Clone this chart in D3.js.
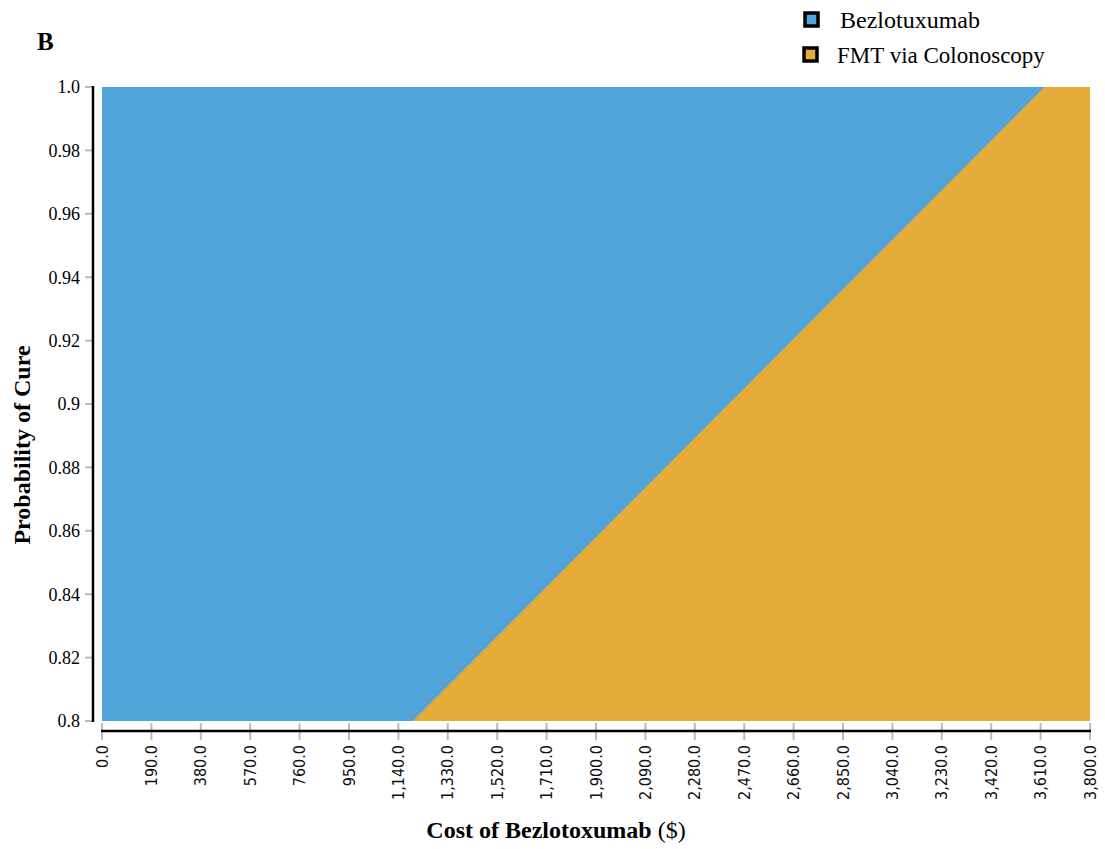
<!DOCTYPE html>
<html lang="en">

<head>
	<meta charset="utf-8">
	<title>Threshold analysis</title>
	<style>
        body { margin: 0; background: #fff; }
        .serif { font-family: "Liberation Serif", "Times New Roman", serif; }
        .xtick text { font: 16px "DejaVu Sans Condensed", "DejaVu Sans", sans-serif; fill: #111; }
	</style>
	<script src="https://cdn.jsdelivr.net/npm/d3@7"></script>
</head>

<body>
    <svg width="1105" height="849"></svg>

	<script>
        // tick values and labels
        const costTicks = [0, 190, 380, 570, 760, 950, 1140, 1330, 1520, 1710, 1900,
            2090, 2280, 2470, 2660, 2850, 3040, 3230, 3420, 3610, 3800];
        const probTicks = [0.8, 0.82, 0.84, 0.86, 0.88, 0.9, 0.92, 0.94, 0.96, 0.98, 1.0];
        const probLabels = ["0.8", "0.82", "0.84", "0.86", "0.88", "0.9", "0.92", "0.94", "0.96", "0.98", "1.0"];

        // threshold line: cost above which FMT is preferred
        const boundaryProb = [0.8, 0.85, 0.9, 0.95, 1.0];
        const boundaryCost = [1195, 1803, 2410, 3018, 3625];

        const seriesNames = ["Bezlotuxumab", "FMT via Colonoscopy"];
        const seriesColors = ["#4fa4da", "#e6ac3a"];

        let svg = d3.select("svg");
        let x = d3.scaleLinear().domain([0, 3800]).range([102, 1090]);
        let y = d3.scaleLinear().domain([0.8, 1.0]).range([721, 87]);

        // regions
        svg.append("rect")
            .attr("x", x(0)).attr("y", y(1.0))
            .attr("width", x(3800) - x(0)).attr("height", y(0.8) - y(1.0))
            .attr("fill", seriesColors[0]);

        let pts = boundaryProb.map((p, i) => ({p: p, c: boundaryCost[i]}));
        let area = d3.area()
            .y(d => y(d.p))
            .x0(d => x(d.c))
            .x1(x(3800));
        svg.append("path").datum(pts)
            .attr("d", area)
            .attr("fill", seriesColors[1]);

        // y axis
        let ya = svg.append("g").attr("class", "serif");
        ya.selectAll("line.t").data(probTicks).enter().append("line")
            .attr("x1", 85).attr("x2", 93)
            .attr("y1", d => y(d)).attr("y2", d => y(d))
            .attr("stroke", "#bbb").attr("stroke-width", 2);
        ya.append("line")
            .attr("x1", 93).attr("x2", 93).attr("y1", y(1.0) - 1).attr("y2", y(0.8) + 1)
            .attr("stroke", "#000").attr("stroke-width", 2.5);
        ya.selectAll("text").data(probTicks).enter().append("text")
            .attr("x", 80).attr("y", d => y(d)).attr("dy", "0.35em")
            .attr("text-anchor", "end").attr("font-size", 18)
            .text((d, i) => probLabels[i]);

        // x axis
        let xa = svg.append("g").attr("class", "xtick");
        xa.selectAll("line").data(costTicks).enter().append("line")
            .attr("x1", d => x(d)).attr("x2", d => x(d))
            .attr("y1", 723).attr("y2", 740)
            .attr("stroke", "#bbb").attr("stroke-width", 2);
        xa.append("line")
            .attr("x1", x(0) - 1).attr("x2", x(3800) + 1).attr("y1", 731).attr("y2", 731)
            .attr("stroke", "#000").attr("stroke-width", 2.5);
        xa.selectAll("text").data(costTicks).enter().append("text")
            .attr("transform", d => "translate(" + x(d) + ",745) rotate(-90)")
            .attr("dy", "0.35em")
            .attr("text-anchor", "end")
            .text(d => d3.format(",.1f")(d));

        // titles
        let xt = svg.append("text").attr("class", "serif")
            .attr("x", 556).attr("y", 838).attr("text-anchor", "middle")
            .attr("font-size", 24);
        xt.append("tspan").attr("font-weight", "bold").text("Cost of Bezlotoxumab");
        xt.append("tspan").text(" ($)");

        svg.append("text").attr("class", "serif")
            .attr("transform", "translate(30,445) rotate(-90)")
            .attr("text-anchor", "middle").attr("font-weight", "bold").attr("font-size", 24)
            .text("Probability of Cure");

        svg.append("text").attr("class", "serif")
            .attr("x", 37).attr("y", 50).attr("font-weight", "bold").attr("font-size", 25)
            .text("B");

        // legend
        let lg = svg.append("g").attr("class", "serif");
        let rows = lg.selectAll("g").data(seriesNames).enter().append("g")
            .attr("transform", (d, i) => "translate(0," + (i * 35) + ")");
        rows.append("rect")
            .attr("x", (d, i) => 805 - i).attr("y", 13)
            .attr("width", 13).attr("height", 13)
            .attr("fill", (d, i) => seriesColors[i])
            .attr("stroke", "#000").attr("stroke-width", 3.5);
        rows.append("text")
            .attr("x", (d, i) => 840 - 3 * i).attr("y", 28)
            .attr("font-size", (d, i) => i ? 23 : 24)
            .text(d => d);
    </script>
</body>

</html>
